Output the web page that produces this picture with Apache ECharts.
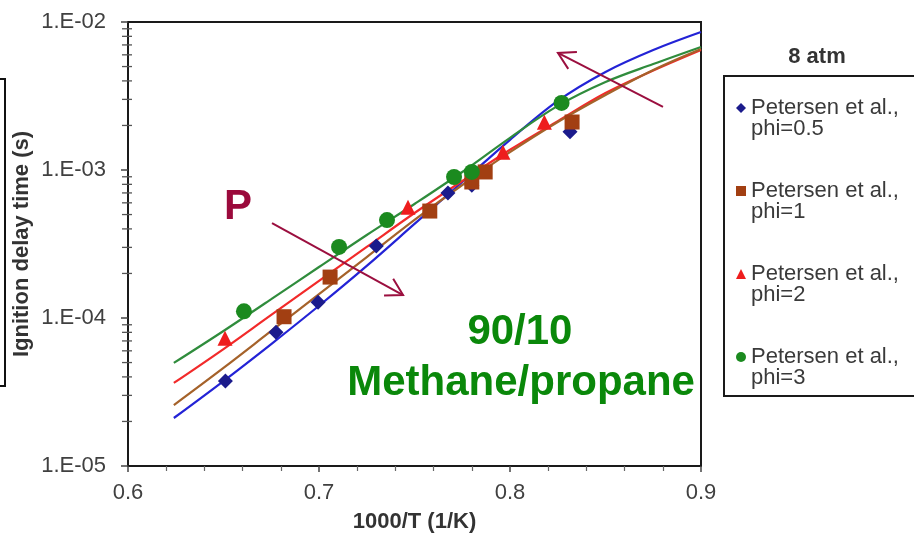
<!DOCTYPE html>
<html>
<head>
<meta charset="utf-8">
<script src="https://cdn.jsdelivr.net/npm/echarts@6/dist/echarts.min.js"></script>
<style>
  html, body { margin: 0; padding: 0; background: #fff; }
  #chart { width: 914px; height: 541px; }
</style>
</head>
<body>
<div id="chart"></div>
<script>
// Ignition delay of a 90/10 methane/propane blend at 8 atm:
// shock-tube measurements (symbols) and model predictions (curves).

// Model curves, 1000/T (1/K) grid and ignition delay time (s)
const fitX    = [0.624, 0.65, 0.675, 0.70, 0.725, 0.75, 0.775, 0.80, 0.825, 0.85, 0.875, 0.90];
const fitPhi05 = [2.11e-5, 3.75e-5, 6.67e-5, 1.21e-4, 2.25e-4, 4.32e-4, 8.30e-4, 1.60e-3, 2.93e-3, 4.60e-3, 6.47e-3, 8.56e-3];
const fitPhi1  = [2.58e-5, 4.60e-5, 8.17e-5, 1.45e-4, 2.58e-4, 4.60e-4, 7.92e-4, 1.32e-3, 2.11e-3, 3.21e-3, 4.74e-3, 6.57e-3];
const fitPhi2  = [3.64e-5, 6.17e-5, 1.05e-4, 1.78e-4, 3.02e-4, 5.12e-4, 8.43e-4, 1.37e-3, 2.14e-3, 3.31e-3, 4.70e-3, 6.47e-3];
const fitPhi3  = [4.97e-5, 8.17e-5, 1.34e-4, 2.21e-4, 3.64e-4, 5.89e-4, 9.69e-4, 1.65e-3, 2.71e-3, 3.93e-3, 5.20e-3, 6.78e-3];

// Petersen et al. measurements
const expX05 = [0.651, 0.6775, 0.6995, 0.730, 0.7675, 0.780, 0.8314];
const expY05 = [3.75e-5, 8.0e-5, 1.28e-4, 3.06e-4, 7.0e-4, 7.9e-4, 1.81e-3];
const expX1  = [0.6817, 0.7058, 0.758, 0.780, 0.787, 0.8325];
const expY1  = [1.02e-4, 1.89e-4, 5.28e-4, 8.3e-4, 9.7e-4, 2.11e-3];
const expX2  = [0.6508, 0.7466, 0.7963, 0.818];
const expY2  = [7.3e-5, 5.6e-4, 1.32e-3, 2.1e-3];
const expX3  = [0.6607, 0.7105, 0.7356, 0.7707, 0.780, 0.827];
const expY3  = [1.11e-4, 3.02e-4, 4.59e-4, 8.97e-4, 9.7e-4, 2.84e-3];

const seriesNames = [
  'Petersen et al.,\nphi=0.5',
  'Petersen et al.,\nphi=1',
  'Petersen et al.,\nphi=2',
  'Petersen et al.,\nphi=3'
];

// Axis ticks
const xTickValues = [0.6, 0.7, 0.8, 0.9];
const yDecades = [1e-5, 1e-4, 1e-3, 1e-2];
const yMinorMantissas = [2, 3, 4, 5, 6, 7, 8, 9];

// Annotations in data coordinates: pressure-trend arrows (from -> to) and labels
const arrowLines = [
  [0.6754, 4.38e-4, 0.7440, 1.43e-4],
  [0.8801, 2.67e-3, 0.8251, 6.18e-3]
];
const noteTexts  = ['P', '90/10', 'Methane/propane'];
const noteX      = [0.6576, 0.8052, 0.8058];
const noteY      = [5.62e-4, 8.03e-5, 3.64e-5];

const FONT = '"Liberation Sans", Arial, Helvetica, sans-serif';
const ARROW_COLOR = '#9b0f3f';

const pair = (xs, ys) => xs.map((x, i) => [x, ys[i]]);

function sciLabel(v) {
  const e = Math.round(Math.log10(v));
  const a = Math.abs(e);
  return '1.E' + (e < 0 ? '-' : '+') + (a < 10 ? '0' : '') + a;
}

const yMinorTicks = [];
yDecades.slice(0, 3).forEach(d => yMinorMantissas.forEach(m => yMinorTicks.push([xTickValues[0], m * d])));

function fitLine(name, ys, color, z) {
  return {
    name: name, type: 'line', data: pair(fitX, ys),
    smooth: 0.35, showSymbol: false, symbol: 'none', silent: true, z: z,
    lineStyle: { color: color, width: 2.2 }
  };
}

function expScatter(name, xs, ys, symbol, size, color, z) {
  return {
    name: name, type: 'scatter', data: pair(xs, ys),
    symbol: symbol, symbolSize: size, z: z,
    itemStyle: { color: color, opacity: 1 }
  };
}

const chart = echarts.init(document.getElementById('chart'), null, { renderer: 'canvas' });

const option = {
  animation: false,
  backgroundColor: '#ffffff',
  title: {
    text: '8 atm', left: 812, top: 41, textAlign: 'center',
    textStyle: { fontFamily: FONT, fontSize: 22, fontWeight: 'bold', color: '#333333' }
  },
  grid: {
    left: 128, right: 213, top: 22, bottom: 75,
    show: true, borderColor: '#1a1a1a', borderWidth: 2, backgroundColor: 'transparent'
  },
  legend: {
    data: seriesNames,
    orient: 'vertical', left: 724, top: 76,
    padding: [0, 40, 7, 12],
    itemGap: 19, itemWidth: 10, itemHeight: 10,
    borderColor: '#1a1a1a', borderWidth: 2,
    selectedMode: false,
    // a blank leading line keeps the symbol level with the first text line
    formatter: name => '\n' + name,
    textStyle: { fontFamily: FONT, fontSize: 22, color: '#3a3a3a', lineHeight: 21 }
  },
  xAxis: {
    type: 'value', min: 0.6, max: 0.9, interval: 0.1,
    name: '1000/T (1/K)', nameLocation: 'middle', nameGap: 45,
    nameMoveOverlap: false,
    nameTextStyle: { fontFamily: FONT, fontSize: 22, fontWeight: 'bold', color: '#333333' },
    axisLine: { show: true, onZero: false, lineStyle: { color: '#1a1a1a', width: 2 } },
    axisTick: { show: true, length: 6, lineStyle: { color: '#444', width: 1.5 } },
    minorTick: { show: true, splitNumber: 5, length: 5, lineStyle: { color: '#666', width: 1.2 } },
    splitLine: { show: false },
    minorSplitLine: { show: false },
    axisLabel: {
      fontFamily: FONT, fontSize: 22, color: '#404040', margin: 16,
      formatter: v => v.toFixed(1)
    }
  },
  yAxis: {
    type: 'log', logBase: 10, min: yDecades[0], max: yDecades[3],
    name: 'Ignition delay time (s)', nameLocation: 'middle', nameGap: 95, nameRotate: 90,
    nameMoveOverlap: false,
    nameTextStyle: { fontFamily: FONT, fontSize: 22, fontWeight: 'bold', color: '#333333' },
    axisLine: { show: true, lineStyle: { color: '#1a1a1a', width: 2 } },
    axisTick: { show: true, length: 7, lineStyle: { color: '#444', width: 1.5 } },
    minorTick: { show: false },
    splitLine: { show: false },
    axisLabel: {
      fontFamily: FONT, fontSize: 22, color: '#404040', margin: 22,
      formatter: v => sciLabel(v)
    }
  },
  series: [
    // minor ticks of the logarithmic axis at 2..9 within each decade
    {
      name: 'yMinorTicks', type: 'custom', data: yMinorTicks, silent: true, clip: false, z: 1,
      renderItem: (params, api) => {
        const p = api.coord([api.value(0), api.value(1)]);
        return {
          type: 'line',
          shape: { x1: p[0] - 6, y1: p[1], x2: p[0] + 4, y2: p[1] },
          style: { stroke: '#555', lineWidth: 1.3 }
        };
      }
    },
    fitLine('model phi=0.5', fitPhi05, '#2323d6', 2),
    fitLine('model phi=3', fitPhi3, '#2f8c3c', 2),
    fitLine('model phi=2', fitPhi2, '#f22a2a', 2),
    fitLine('model phi=1', fitPhi1, '#a5622a', 2),
    expScatter(seriesNames[0], expX05, expY05, 'diamond', 15, '#1b1b8c', 5),
    expScatter(seriesNames[1], expX1, expY1, 'rect', 15, '#a23f12', 5),
    expScatter(seriesNames[2], expX2, expY2, 'triangle', 15, '#ee1d1d', 5),
    expScatter(seriesNames[3], expX3, expY3, 'circle', 16, '#1b8a1f', 5),
    // pressure-trend arrows with open heads
    {
      name: 'arrows', type: 'custom', data: arrowLines, silent: true, clip: false, z: 6,
      encode: { x: [0, 2], y: [1, 3] },
      renderItem: (params, api) => {
        const a = api.coord([api.value(0), api.value(1)]);
        const b = api.coord([api.value(2), api.value(3)]);
        const ang = Math.atan2(a[1] - b[1], a[0] - b[0]);
        const L = 19, spread = Math.PI / 6;
        const h1 = [b[0] + L * Math.cos(ang + spread), b[1] + L * Math.sin(ang + spread)];
        const h2 = [b[0] + L * Math.cos(ang - spread), b[1] + L * Math.sin(ang - spread)];
        const st = { stroke: ARROW_COLOR, lineWidth: 2, fill: 'none' };
        return {
          type: 'group',
          children: [
            { type: 'line', shape: { x1: a[0], y1: a[1], x2: b[0], y2: b[1] }, style: st },
            { type: 'polyline', shape: { points: [h1, b, h2] }, style: st }
          ]
        };
      }
    },
    // text notes
    {
      name: 'notes', type: 'custom', data: pair(noteX, noteY), silent: true, clip: false, z: 7,
      renderItem: (params, api) => {
        const p = api.coord([api.value(0), api.value(1)]);
        const i = params.dataIndex;
        return {
          type: 'text', x: p[0], y: p[1],
          style: {
            text: noteTexts[i], align: 'center', verticalAlign: 'middle',
            font: 'bold 42px ' + FONT,
            fill: i === 0 ? '#9b0a3c' : '#0a880a'
          }
        };
      }
    }
  ],
  graphic: [
    // edge of the neighbouring frame at the far left
    {
      type: 'rect', silent: true,
      shape: { x: -10, y: 79, width: 15, height: 307 },
      style: { fill: 'none', stroke: '#111', lineWidth: 2 }
    }
  ]
};

chart.setOption(option);
</script>
</body>
</html>
